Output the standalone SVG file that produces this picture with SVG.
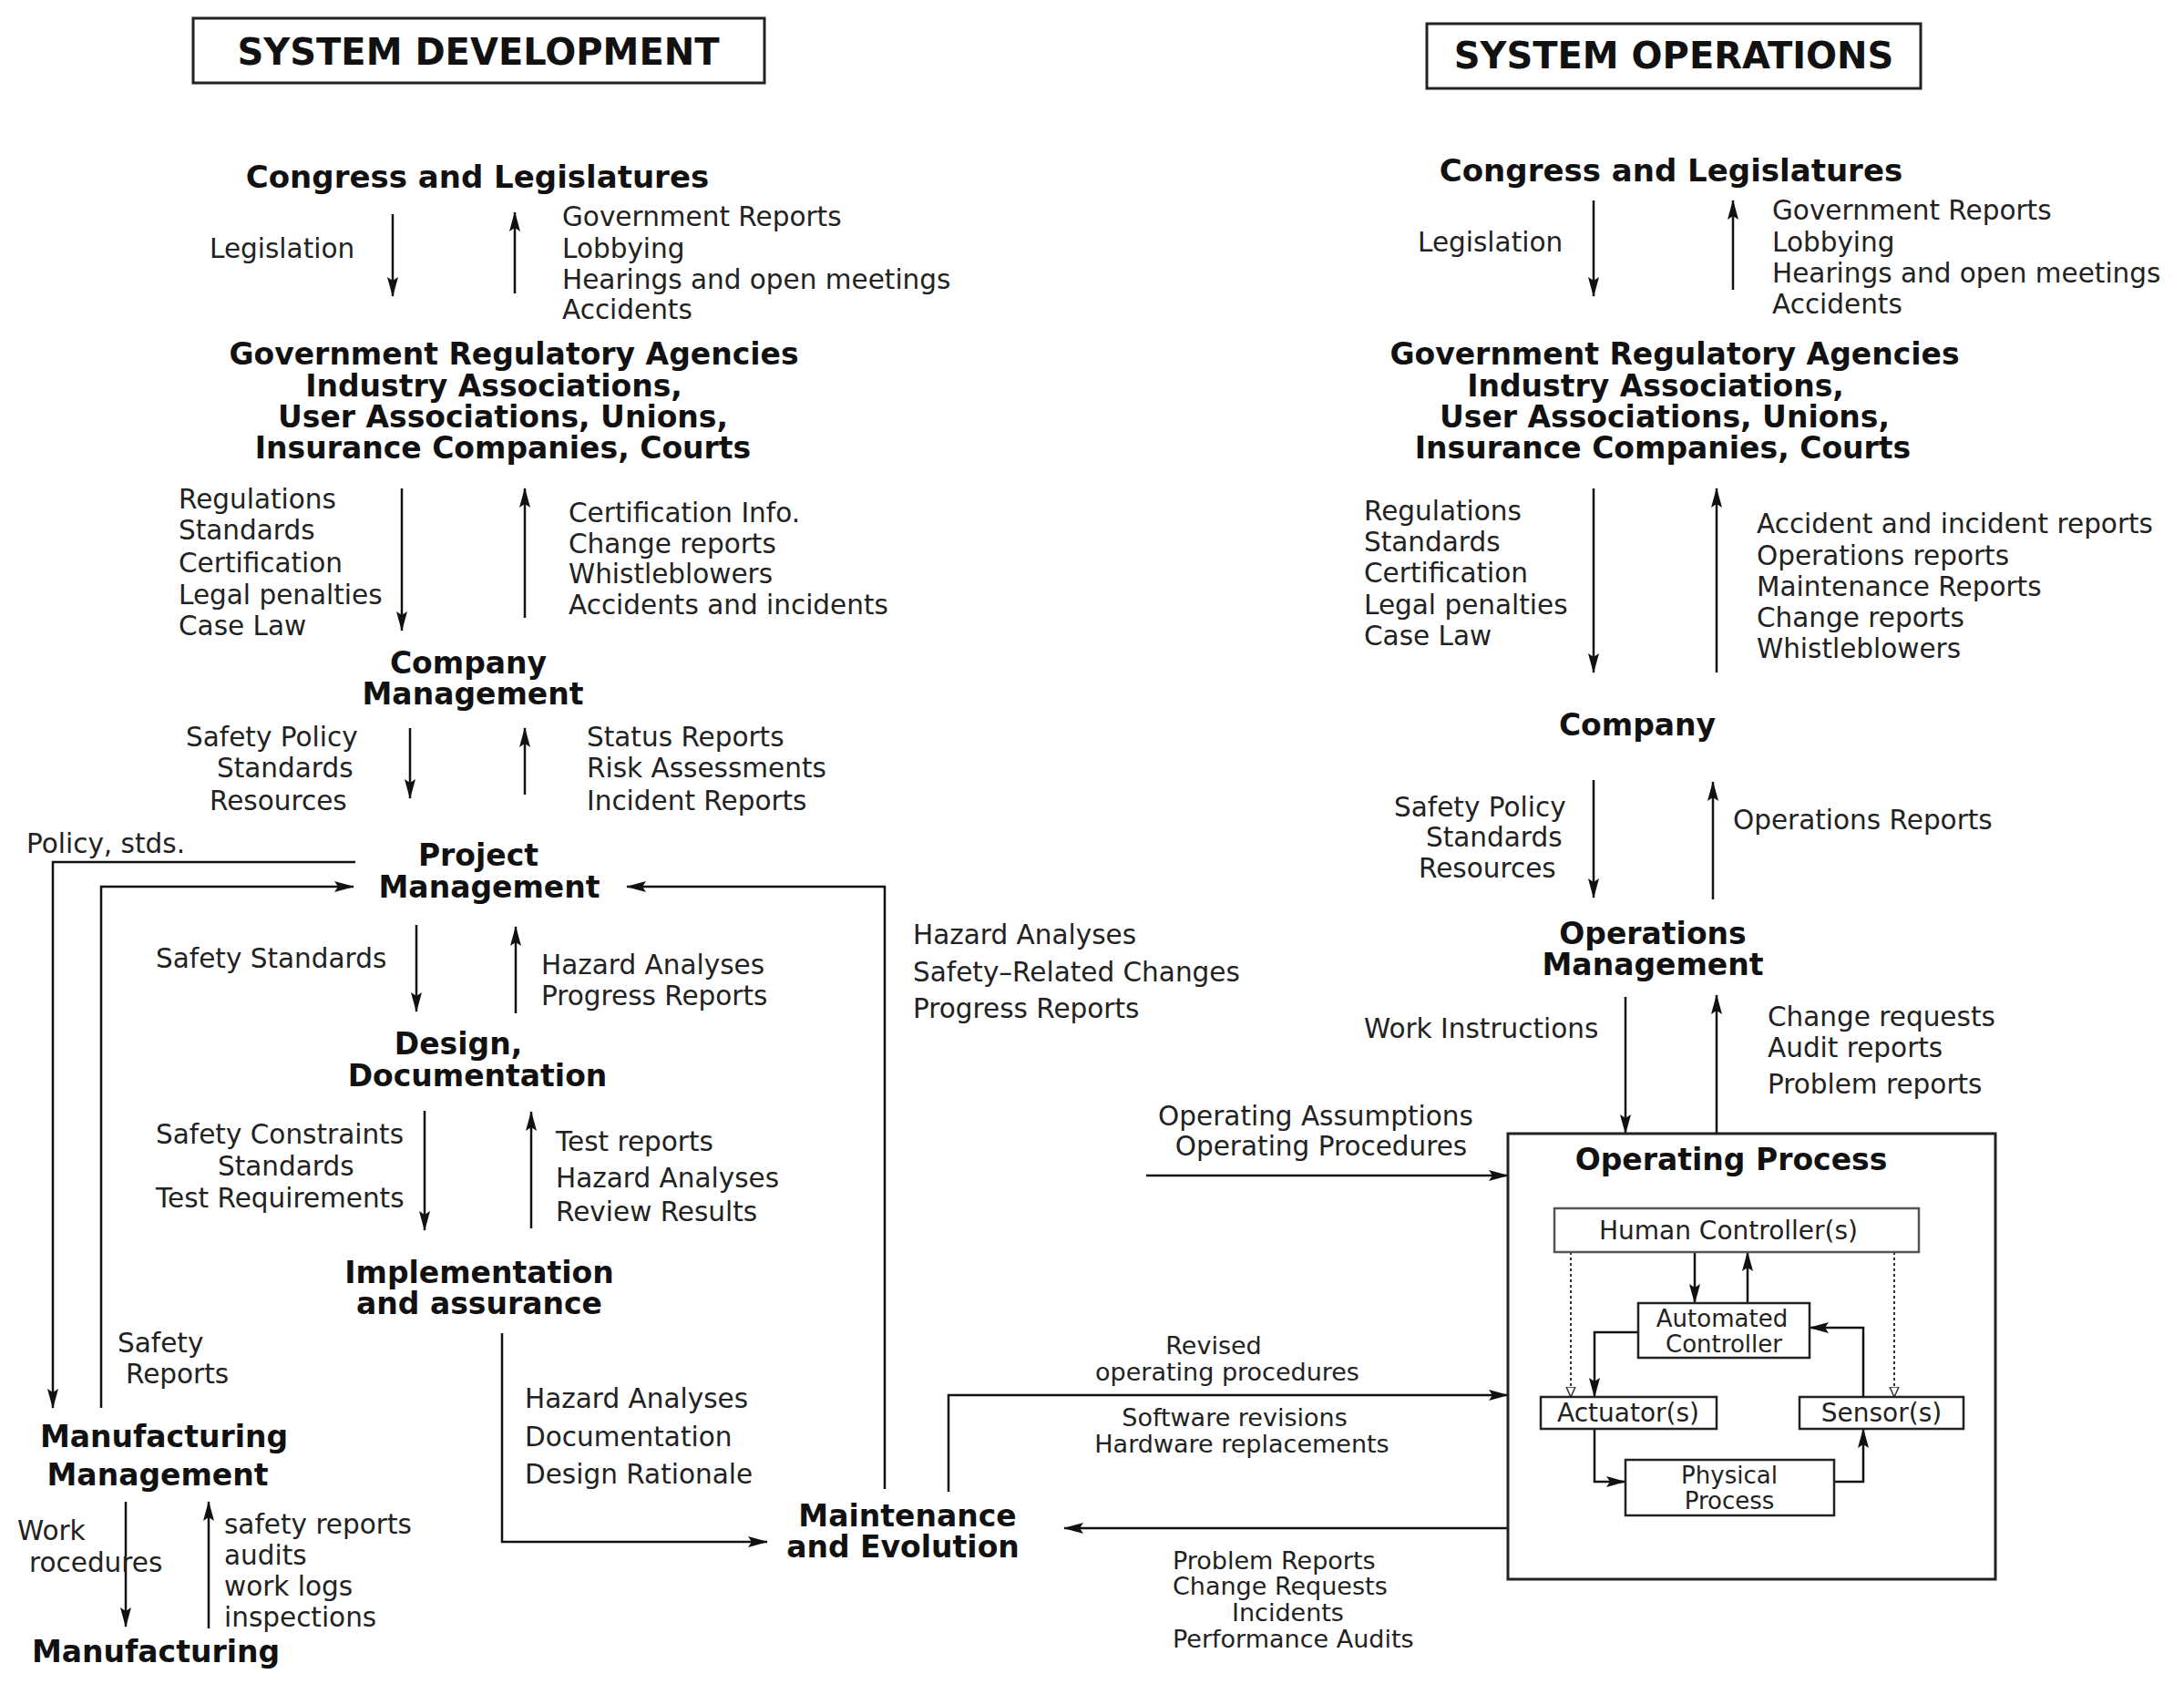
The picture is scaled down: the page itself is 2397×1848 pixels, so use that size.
<svg xmlns="http://www.w3.org/2000/svg" width="2397" height="1848" viewBox="0 0 2397 1848">
<defs>
<marker id="ah" markerUnits="userSpaceOnUse" markerWidth="22" markerHeight="12" refX="21" refY="6" orient="auto"><path d="M0,0 L22,6 L0,12 L4,6 Z" fill="#111"/></marker>
<marker id="oh" markerUnits="userSpaceOnUse" markerWidth="12" markerHeight="12" refX="11" refY="6" orient="auto"><path d="M0,1 L11,6 L0,11 Z" fill="#fff" stroke="#333" stroke-width="1.5"/></marker>
</defs>
<style>
.t{font-family:"DejaVu Sans",sans-serif;font-size:29.5px;fill:#222}
.b{font-family:"DejaVu Sans",sans-serif;font-size:33px;font-weight:bold;fill:#111}
.m{text-anchor:middle}
.s{font-size:28px}
.c{font-size:27px}
.ln{stroke:#111;stroke-width:2.5;fill:none}
.arr{stroke:#111;stroke-width:2.5;fill:none;marker-end:url(#ah)}
.dot{stroke:#333;stroke-width:2;fill:none;stroke-dasharray:3,3;marker-end:url(#oh)}
.box{fill:#fff;stroke:#222;stroke-width:3}
.ibox{fill:#fff;stroke:#222;stroke-width:2.5}
</style>
<rect x="0" y="0" width="2397" height="1848" fill="#fff"/>

<g id="connectors">
<line class="arr" x1="431" y1="235" x2="431" y2="325"/>
<line class="arr" x1="565" y1="322" x2="565" y2="233"/>
<line class="arr" x1="441" y1="536" x2="441" y2="692"/>
<line class="arr" x1="576" y1="678" x2="576" y2="536"/>
<line class="arr" x1="450" y1="799" x2="450" y2="876"/>
<line class="arr" x1="576" y1="872" x2="576" y2="799"/>
<line class="arr" x1="457" y1="1015" x2="457" y2="1110"/>
<line class="arr" x1="566" y1="1112" x2="566" y2="1017"/>
<line class="arr" x1="466" y1="1219" x2="466" y2="1350"/>
<line class="arr" x1="583" y1="1348" x2="583" y2="1220"/>
<path class="arr" d="M390,946 H58 V1545"/>
<path class="arr" d="M111,1545 V973 H388"/>
<path class="arr" d="M971,1634 V973 H688"/>
<path class="arr" d="M551,1463 V1692 H842"/>
<line class="arr" x1="138" y1="1648" x2="138" y2="1785"/>
<line class="arr" x1="229" y1="1787" x2="229" y2="1648"/>
<line class="arr" x1="1749" y1="220" x2="1749" y2="325"/>
<line class="arr" x1="1902" y1="318" x2="1902" y2="220"/>
<line class="arr" x1="1749" y1="536" x2="1749" y2="738"/>
<line class="arr" x1="1884" y1="738" x2="1884" y2="536"/>
<line class="arr" x1="1749" y1="856" x2="1749" y2="985"/>
<line class="arr" x1="1880" y1="987" x2="1880" y2="858"/>
<line class="arr" x1="1784" y1="1094" x2="1784" y2="1244"/>
<line class="arr" x1="1884" y1="1244" x2="1884" y2="1092"/>
<line class="arr" x1="1258" y1="1290" x2="1655" y2="1290"/>
<path class="arr" d="M1041,1637 V1531 H1655"/>
<line class="arr" x1="1655" y1="1677" x2="1168" y2="1677"/>
<line class="arr" x1="1860" y1="1374" x2="1860" y2="1430"/>
<line class="arr" x1="1918" y1="1430" x2="1918" y2="1374"/>
<line class="dot" x1="1724" y1="1374" x2="1724" y2="1533"/>
<line class="dot" x1="2079" y1="1374" x2="2079" y2="1533"/>
<path class="arr" d="M1798,1462 H1750 V1533"/>
<path class="arr" d="M2045,1533 V1457 H1986"/>
<path class="arr" d="M1750,1568 V1626 H1784"/>
<path class="arr" d="M2013,1626 H2045 V1568"/>
</g>

<g id="title-dev"><rect class="box" x="212" y="20" width="627" height="71"/><text class="b m" x="525" y="71" style="font-size:40px">SYSTEM DEVELOPMENT</text></g>
<g id="title-ops"><rect class="box" x="1566" y="26" width="542" height="71"/><text class="b m" x="1837" y="75" style="font-size:40px">SYSTEM OPERATIONS</text></g>

<g id="dev-congress"><text class="b m" x="524" y="206" style="font-size:34px">Congress and Legislatures</text></g>
<g id="dev-labels-1">
<text class="t" x="230" y="283">Legislation</text>
<text class="t" x="617" y="248">Government Reports</text>
<text class="t" x="617" y="283">Lobbying</text>
<text class="t" x="617" y="317">Hearings and open meetings</text>
<text class="t" x="617" y="350">Accidents</text>
</g>
<g id="dev-govreg">
<text class="b m" x="564" y="400">Government Regulatory Agencies</text>
<text class="b m" x="542" y="435">Industry Associations,</text>
<text class="b m" x="552" y="469">User Associations, Unions,</text>
<text class="b m" x="552" y="503">Insurance Companies, Courts</text>
</g>
<g id="dev-labels-2">
<text class="t" x="196" y="558">Regulations</text>
<text class="t" x="196" y="592">Standards</text>
<text class="t" x="196" y="628">Certification</text>
<text class="t" x="196" y="663">Legal penalties</text>
<text class="t" x="196" y="697">Case Law</text>
<text class="t" x="624" y="573">Certification Info.</text>
<text class="t" x="624" y="607">Change reports</text>
<text class="t" x="624" y="640">Whistleblowers</text>
<text class="t" x="624" y="674">Accidents and incidents</text>
</g>
<g id="dev-company">
<text class="b m" x="514" y="739">Company</text>
<text class="b m" x="519" y="773">Management</text>
</g>
<g id="dev-labels-3">
<text class="t" x="204" y="819">Safety Policy</text>
<text class="t" x="238" y="853">Standards</text>
<text class="t" x="230" y="889">Resources</text>
<text class="t" x="644" y="819">Status Reports</text>
<text class="t" x="644" y="853">Risk Assessments</text>
<text class="t" x="644" y="889">Incident Reports</text>
<text class="t" x="29" y="936">Policy, stds.</text>
</g>
<g id="dev-project">
<text class="b m" x="525" y="950">Project</text>
<text class="b m" x="537" y="985">Management</text>
</g>
<g id="dev-labels-4">
<text class="t" x="171" y="1062">Safety Standards</text>
<text class="t" x="594" y="1069">Hazard Analyses</text>
<text class="t" x="594" y="1103">Progress Reports</text>
<text class="t" x="1002" y="1036">Hazard Analyses</text>
<text class="t" x="1002" y="1077">Safety–Related Changes</text>
<text class="t" x="1002" y="1117">Progress Reports</text>
</g>
<g id="dev-design">
<text class="b m" x="503" y="1157">Design,</text>
<text class="b m" x="524" y="1192">Documentation</text>
</g>
<g id="dev-labels-5">
<text class="t" x="171" y="1255">Safety Constraints</text>
<text class="t" x="239" y="1290">Standards</text>
<text class="t" x="171" y="1325">Test Requirements</text>
<text class="t" x="610" y="1263">Test reports</text>
<text class="t" x="610" y="1303">Hazard Analyses</text>
<text class="t" x="610" y="1340">Review Results</text>
</g>
<g id="dev-implementation">
<text class="b m" x="526" y="1408">Implementation</text>
<text class="b m" x="526" y="1442">and assurance</text>
</g>
<g id="dev-labels-6">
<text class="t" x="576" y="1545">Hazard Analyses</text>
<text class="t" x="576" y="1587">Documentation</text>
<text class="t" x="576" y="1628">Design Rationale</text>
<text class="t" x="129" y="1484">Safety</text>
<text class="t" x="138" y="1518">Reports</text>
</g>
<g id="dev-mfg-mgmt">
<text class="b m" x="180" y="1588">Manufacturing</text>
<text class="b m" x="173" y="1630">Management</text>
</g>
<g id="dev-labels-7">
<text class="t" x="19" y="1690">Work</text>
<text class="t" x="32" y="1725">rocedures</text>
<text class="t" x="246" y="1683">safety reports</text>
<text class="t" x="246" y="1717">audits</text>
<text class="t" x="246" y="1751">work logs</text>
<text class="t" x="246" y="1785">inspections</text>
</g>
<g id="dev-mfg"><text class="b m" x="171" y="1824">Manufacturing</text></g>
<g id="maintenance">
<text class="b m" x="996" y="1675">Maintenance</text>
<text class="b m" x="991" y="1709">and Evolution</text>
</g>

<g id="ops-congress"><text class="b m" x="1834" y="199" style="font-size:34px">Congress and Legislatures</text></g>
<g id="ops-labels-1">
<text class="t" x="1556" y="276">Legislation</text>
<text class="t" x="1945" y="241">Government Reports</text>
<text class="t" x="1945" y="276">Lobbying</text>
<text class="t" x="1945" y="310">Hearings and open meetings</text>
<text class="t" x="1945" y="344">Accidents</text>
</g>
<g id="ops-govreg">
<text class="b m" x="1838" y="400">Government Regulatory Agencies</text>
<text class="b m" x="1817" y="435">Industry Associations,</text>
<text class="b m" x="1827" y="469">User Associations, Unions,</text>
<text class="b m" x="1825" y="503">Insurance Companies, Courts</text>
</g>
<g id="ops-labels-2">
<text class="t" x="1497" y="571">Regulations</text>
<text class="t" x="1497" y="605">Standards</text>
<text class="t" x="1497" y="639">Certification</text>
<text class="t" x="1497" y="674">Legal penalties</text>
<text class="t" x="1497" y="708">Case Law</text>
<text class="t" x="1928" y="585">Accident and incident reports</text>
<text class="t" x="1928" y="620">Operations reports</text>
<text class="t" x="1928" y="654">Maintenance Reports</text>
<text class="t" x="1928" y="688">Change reports</text>
<text class="t" x="1928" y="722">Whistleblowers</text>
</g>
<g id="ops-company"><text class="b m" x="1797" y="807">Company</text></g>
<g id="ops-labels-3">
<text class="t" x="1530" y="896">Safety Policy</text>
<text class="t" x="1565" y="929">Standards</text>
<text class="t" x="1557" y="963">Resources</text>
<text class="t" x="1902" y="910">Operations Reports</text>
</g>
<g id="ops-mgmt">
<text class="b m" x="1814" y="1036">Operations</text>
<text class="b m" x="1814" y="1070">Management</text>
</g>
<g id="ops-labels-4">
<text class="t" x="1497" y="1139">Work Instructions</text>
<text class="t" x="1940" y="1126">Change requests</text>
<text class="t" x="1940" y="1160">Audit reports</text>
<text class="t" x="1940" y="1200">Problem reports</text>
<text class="t m" x="1444" y="1235">Operating Assumptions</text>
<text class="t m" x="1450" y="1268">Operating Procedures</text>
<text class="t c m" x="1332" y="1486">Revised</text>
<text class="t c m" x="1347" y="1515">operating procedures</text>
<text class="t c m" x="1355" y="1565">Software revisions</text>
<text class="t c m" x="1363" y="1594">Hardware replacements</text>
<text class="t c" x="1287" y="1722">Problem Reports</text>
<text class="t c" x="1287" y="1750">Change Requests</text>
<text class="t c" x="1352" y="1779">Incidents</text>
<text class="t c" x="1287" y="1808">Performance Audits</text>
</g>

<g id="operating-process">
<rect class="box" x="1655" y="1244" width="535" height="489" style="fill:none"/>
<text class="b m" x="1900" y="1284">Operating Process</text>
</g>
<g id="human-controller"><rect class="ibox" x="1706" y="1326" width="400" height="48" style="stroke:#555"/><text class="t s m" x="1897" y="1360">Human Controller(s)</text></g>
<g id="automated-controller"><rect class="ibox" x="1798" y="1430" width="188" height="60"/><text class="t m" x="1890" y="1456" style="font-size:26px">Automated</text><text class="t m" x="1892" y="1484" style="font-size:26px">Controller</text></g>
<g id="actuators"><rect class="ibox" x="1691" y="1533" width="193" height="35"/><text class="t s m" x="1787" y="1560">Actuator(s)</text></g>
<g id="sensors"><rect class="ibox" x="1975" y="1533" width="180" height="35"/><text class="t s m" x="2065" y="1560">Sensor(s)</text></g>
<g id="physical-process"><rect class="ibox" x="1784" y="1602" width="229" height="61"/><text class="t m" x="1898" y="1628" style="font-size:26px">Physical</text><text class="t m" x="1898" y="1656" style="font-size:26px">Process</text></g>
</svg>
